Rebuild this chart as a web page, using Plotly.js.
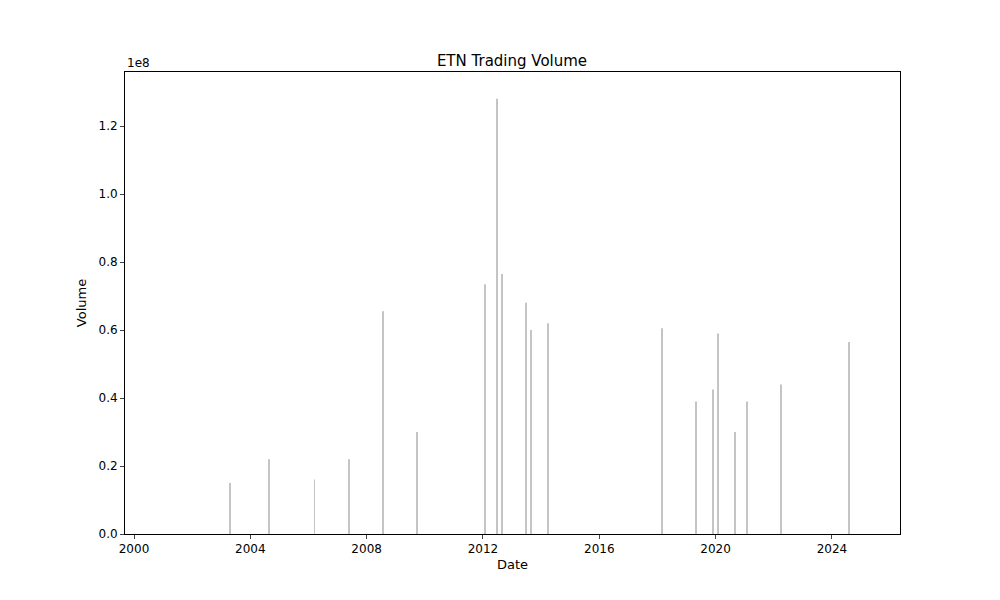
<!DOCTYPE html>
<html>
<head>
<script src="https://cdn.plot.ly/plotly-3.0.1.min.js"></script>
<style>body{margin:0}#chart{width:1000px;height:600px}</style>
</head>
<body>
<div id="chart"></div>
<script>
// visible volume spikes
const dates = ['2003-04-20','2004-08-22','2006-03-20','2007-05-22','2008-07-24','2009-09-24',
  '2012-01-26','2012-06-25','2012-08-25','2013-06-25','2013-08-25','2014-03-28',
  '2018-02-28','2019-05-01','2019-11-28','2020-01-30','2020-09-02','2021-01-30',
  '2022-04-01','2024-08-04'];
const volumes = [0.15e8,0.22e8,0.16e8,0.22e8,0.655e8,0.30e8,
  0.735e8,1.28e8,0.765e8,0.68e8,0.60e8,0.62e8,
  0.605e8,0.39e8,0.425e8,0.59e8,0.30e8,0.39e8,
  0.44e8,0.565e8];
const yTicks = [0,0.2e8,0.4e8,0.6e8,0.8e8,1.0e8,1.2e8];
const yTickText = ['0.0','0.2','0.4','0.6','0.8','1.0','1.2'];
const xTicks = ['2000','2004','2008','2012','2016','2020','2024'];

const dayMs = 86400000;
const trace = {
  x: dates, y: volumes, type: 'bar',
  width: dates.map(() => 6 * dayMs),
  marker: {color: '#c4c4c4', line: {width: 0}}
};

const layout = {
  width: 1000, height: 600,
  margin: {l: 125, r: 100, t: 72, b: 66},
  paper_bgcolor: 'white', plot_bgcolor: 'white',
  font: {family: 'DejaVu Sans', size: 12, color: 'black'},
  title: {text: 'ETN Trading Volume', x: 0.512, xanchor: 'center',
    yref: 'paper', y: 1, yanchor: 'bottom', pad: {b: 6}, font: {size: 15}},
  showlegend: false,
  xaxis: {
    type: 'date', range: ['1999-09-10', '2026-05-05'],
    tickvals: xTicks.map(y => y + '-01-01'), ticktext: xTicks,
    ticks: 'outside', ticklen: 4, showgrid: false, zeroline: false,
    showline: true, mirror: true, linecolor: 'black', linewidth: 1,
    title: {text: 'Date', standoff: 4, font: {size: 13}}
  },
  yaxis: {
    range: [0, 1.359e8],
    tickvals: yTicks, ticktext: yTickText,
    ticks: 'outside', ticklen: 4, showgrid: false, zeroline: false,
    showline: true, mirror: true, linecolor: 'black', linewidth: 1,
    title: {text: 'Volume', standoff: 8, font: {size: 13}}
  },
  annotations: [{text: '1e8', xref: 'paper', yref: 'paper', x: 0, y: 1,
    xanchor: 'left', yanchor: 'bottom', showarrow: false, font: {size: 12}}]
};

Plotly.newPlot('chart', [trace], layout, {displayModeBar: false});
</script>
</body>
</html>
